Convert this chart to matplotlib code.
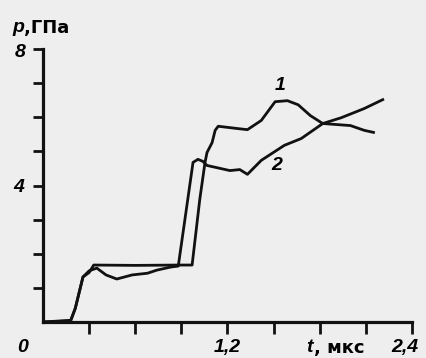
import matplotlib
matplotlib.use('Agg')
import matplotlib.pyplot as plt

plt.rcParams['font.family'] = ['Liberation Sans', 'DejaVu Sans']
plt.rcParams['mathtext.fontset'] = 'custom'
plt.rcParams['mathtext.it'] = 'Liberation Sans:italic:bold'
plt.rcParams['mathtext.rm'] = 'Liberation Sans:bold'

# curve 1 (t in mks, p in GPa)
t1 = [0, 0.18, 0.21, 0.26, 0.30, 0.33, 0.60, 0.89, 0.97, 1.02, 1.054, 1.067, 1.10, 1.12, 1.14,
      1.27, 1.33, 1.42, 1.51, 1.59, 1.66, 1.74, 1.82, 1.94, 2.00, 2.09, 2.15]
p1 = [0, 0.05, 0.40, 1.32, 1.45, 1.67, 1.66, 1.67, 1.67, 3.60, 4.68, 4.97, 5.26, 5.62, 5.74,
      5.67, 5.64, 5.91, 6.46, 6.49, 6.37, 6.05, 5.82, 5.78, 5.76, 5.62, 5.56]

# curve 2
t2 = [0, 0.18, 0.21, 0.26, 0.30, 0.35, 0.41, 0.48, 0.58, 0.68, 0.74, 0.83, 0.88,
      0.976, 1.008, 1.04, 1.067, 1.216, 1.28, 1.33, 1.42, 1.57, 1.68, 1.82, 1.94, 2.09, 2.21]
p2 = [0, 0.03, 0.40, 1.32, 1.50, 1.58, 1.38, 1.26, 1.38, 1.43, 1.52, 1.61, 1.64,
      4.68, 4.77, 4.71, 4.59, 4.44, 4.47, 4.33, 4.74, 5.18, 5.38, 5.82, 5.99, 6.26, 6.52]

x_ticks = [0.3, 0.6, 0.9, 1.2, 1.5, 1.8, 2.1, 2.4]
y_ticks = [1, 2, 3, 4, 5, 6, 7, 8]

bg = '#eeeeee'
ink = '#111111'
fig = plt.figure(figsize=(4.27, 3.58), dpi=100, facecolor=bg)
ax = fig.add_axes([0.1007, 0.1006, 0.864, 0.762])
ax.set_facecolor(bg)

ax.plot(t1, p1, color=ink, lw=2.0, solid_joinstyle='round')
ax.plot(t2, p2, color=ink, lw=2.0, solid_joinstyle='round')

ax.set_xlim(0, 2.4)
ax.set_ylim(0, 8)
for s in ['top', 'right']:
    ax.spines[s].set_visible(False)
for s in ['left', 'bottom']:
    ax.spines[s].set_linewidth(2.3)
    ax.spines[s].set_color(ink)

ax.set_xticks(x_ticks)
ax.set_yticks(y_ticks)
ax.set_xticklabels([])
ax.set_yticklabels([])
ax.tick_params(axis='x', direction='out', length=8.5, width=2.0, color=ink)
ax.tick_params(axis='y', direction='out', length=7, width=2.0, color=ink)

fs = 14
num = dict(fontsize=fs, style='italic', weight='bold', ha='center', va='center', clip_on=False)
ax.text(-0.13, -0.76, '0', **num)
ax.text(1.2, -0.76, '1,2', **num)
ax.text(2.355, -0.76, '2,4', **num)
ax.text(-0.15, 7.9, '8', **num)
ax.text(-0.16, 3.95, '4', **num)
ax.text(1.54, 6.93, '1', **num)
ax.text(1.52, 4.59, '2', **num)

ax.text(1.71, -0.76, 't', fontsize=fs, style='italic', weight='bold', ha='left', va='center', clip_on=False)
ax.text(1.76, -0.76, ', мкс', fontsize=fs - 1, weight='bold', family='DejaVu Sans',
        ha='left', va='center', clip_on=False)
ax.text(-0.2, 8.63, 'p', fontsize=fs, style='italic', weight='bold', ha='left', va='center', clip_on=False)
ax.text(-0.125, 8.63, ',ГПа', fontsize=fs - 1, weight='bold', family='DejaVu Sans',
        ha='left', va='center', clip_on=False)

fig.savefig('out.png', dpi=100, facecolor=bg)
